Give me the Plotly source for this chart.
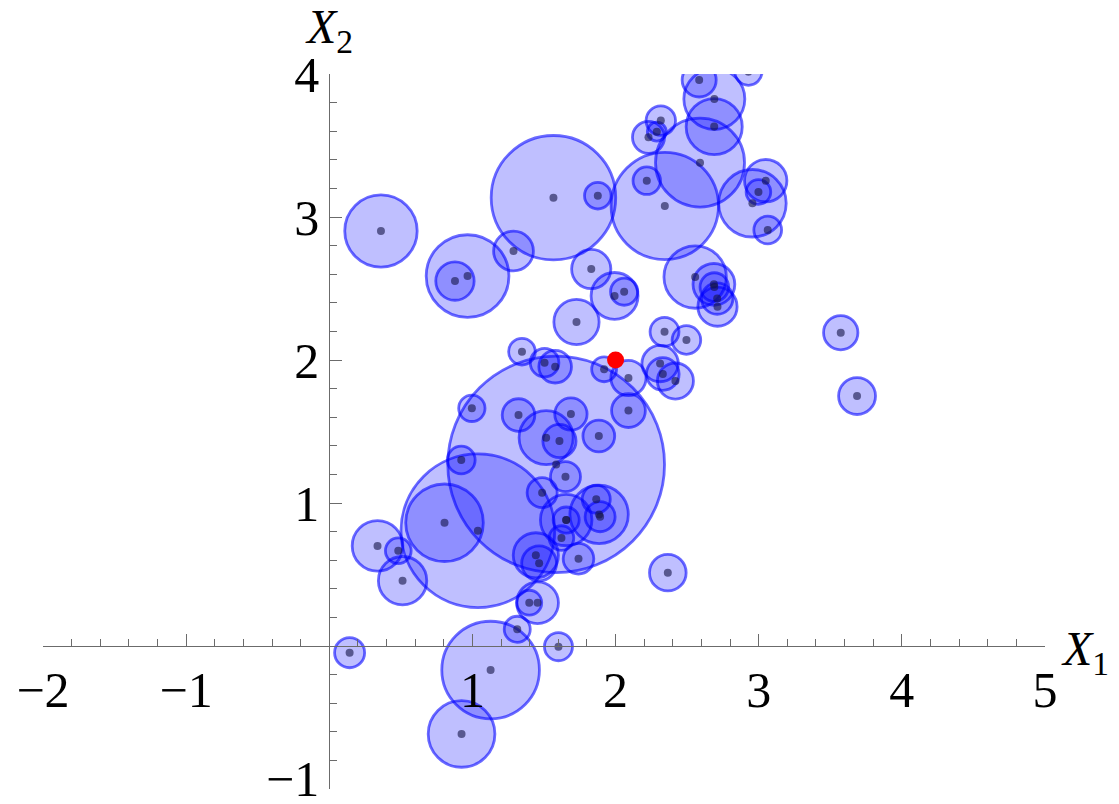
import plotly.graph_objects as go

# circle centres and radii (data units)
cx = [0.361, 1.566, 1.876, 1.287, 0.966, 0.878, 1.83, 2.06, 1.993, 1.727,
      2.584, 2.928, 2.69, 2.689, 2.316, 2.288, 2.23, 2.59, 2.344, 2.218,
      3.049, 2.998, 2.956, 3.063, 2.556, 2.687, 2.69, 2.712, 2.71, 1.346,
      1.504, 1.578, 1.92, 2.09, 2.09, 2.342, 2.495, 2.311, 2.33, 2.418,
      3.573, 3.687, 1.585, 1.038, 0.805, 0.996, 1.322, 1.688, 1.515, 1.608,
      1.883, 0.922, 1.65, 1.487, 1.865, 1.892, 1.885, 1.655, 1.655, 1.622,
      0.337, 0.482, 0.512, 1.741, 1.443, 1.466, 2.365, 1.397, 1.455, 1.313,
      1.601, 0.142, 1.127, 0.924]
cy = [2.902, 3.135, 3.149, 2.762, 2.587, 2.552, 2.636, 2.478, 2.448, 2.266,
      3.958, 4.016, 3.825, 3.632, 3.674, 3.597, 3.557, 3.38, 3.077, 3.254,
      3.254, 3.175, 3.096, 2.909, 2.58, 2.529, 2.51, 2.373, 2.43, 2.058,
      1.981, 1.953, 1.935, 1.874, 1.646, 2.197, 2.14, 1.975, 1.902, 1.853,
      2.191, 1.748, 1.27, 0.806, 0.862, 1.662, 1.615, 1.622, 1.457, 1.434,
      1.469, 1.301, 1.184, 1.072, 1.027, 0.904, 0.92, 0.881, 0.881, 0.755,
      0.70, 0.666, 0.457, 0.61, 0.634, 0.578, 0.513, 0.303, 0.303, 0.117,
      -0.005, -0.047, -0.168, -0.615]
rad = [0.253, 0.435, 0.093, 0.139, 0.289, 0.134, 0.137, 0.095, 0.164, 0.158,
       0.119, 0.095, 0.213, 0.196, 0.103, 0.066, 0.112, 0.311, 0.375, 0.096,
       0.148, 0.086, 0.236, 0.097, 0.218, 0.146, 0.10, 0.137, 0.11, 0.093,
       0.10, 0.114, 0.087, 0.123, 0.118, 0.101, 0.10, 0.127, 0.114, 0.126,
       0.12, 0.129, 0.757, 0.537, 0.271, 0.092, 0.114, 0.113, 0.189, 0.116,
       0.111, 0.097, 0.105, 0.105, 0.098, 0.105, 0.204, 0.18, 0.091, 0.086,
       0.177, 0.09, 0.169, 0.107, 0.158, 0.122, 0.128, 0.087, 0.146, 0.091,
       0.098, 0.105, 0.341, 0.233]

query_x = [2.0]
query_y = [2.0]

x_ticks = [-2, -1, 1, 2, 3, 4, 5]
y_ticks = [-1, 1, 2, 3, 4]
x_range = [-2, 5]
y_range = [-1, 4]

FONT = "Liberation Serif"
AXC = "#6b6b6b"

def lab(v):
    return "\u2212" + str(-v) if v < 0 else str(v)

fig = go.Figure()

shapes = []
for x, y, r in zip(cx, cy, rad):
    shapes.append(dict(type="circle", xref="x", yref="y",
                       x0=x - r, x1=x + r, y0=y - r, y1=y + r,
                       fillcolor="rgba(0,0,255,0.25)",
                       line=dict(color="rgba(0,0,255,0.58)", width=2.8),
                       layer="below"))

fig.add_trace(go.Scatter(x=cx, y=cy, mode="markers",
                         marker=dict(size=8, color="rgba(20,20,70,0.6)", line=dict(width=0)),
                         showlegend=False, hoverinfo="skip"))
fig.add_trace(go.Scatter(x=query_x, y=query_y, mode="markers",
                         marker=dict(size=17, color="#ff0000", line=dict(width=0)),
                         showlegend=False, hoverinfo="skip"))

x_pos = (0 - y_range[0]) / (y_range[1] - y_range[0])
y_pos = (0 - x_range[0]) / (x_range[1] - x_range[0])

axis_common = dict(showgrid=False, zeroline=False, showline=True, linecolor=AXC, linewidth=1.3,
                   tickmode="array", ticks="inside", ticklen=12, tickwidth=1.2, tickcolor=AXC,
                   tickfont=dict(family=FONT, size=50, color="black"),
                   minor=dict(tickmode="linear", tick0=0, dtick=0.2, ticks="inside", ticklen=7,
                              tickwidth=1, tickcolor=AXC, showgrid=False),
                   automargin=False, anchor="free")

# the lowest y label sits at the page edge, so it is drawn as an annotation
y_text = [lab(v) if v != y_range[0] else "" for v in y_ticks]

fig.update_layout(
    width=1119, height=804,
    margin=dict(l=43, r=74, t=74, b=15),
    paper_bgcolor="white", plot_bgcolor="white",
    shapes=shapes,
    xaxis=dict(range=x_range, position=x_pos, tickvals=x_ticks,
               ticktext=[lab(v) for v in x_ticks], **axis_common),
    yaxis=dict(range=y_range, position=y_pos, tickvals=y_ticks,
               ticktext=y_text, **axis_common),
    annotations=[
        dict(text=lab(y_range[0]), xref="x", yref="y", x=0, y=y_range[0], xanchor="right",
             yanchor="middle", xshift=-8, yshift=10, showarrow=False,
             font=dict(family=FONT, size=50, color="black")),
        dict(text="<i>X</i><sub>1</sub>", xref="paper", yref="y", x=1.0, y=0, xanchor="left",
             yanchor="middle", xshift=14, yshift=-6, showarrow=False,
             font=dict(family=FONT, size=48, color="black")),
        dict(text="<i>X</i><sub>2</sub>", xref="x", yref="paper", x=0, y=1.0, xanchor="center",
             yanchor="bottom", xshift=0, yshift=12, showarrow=False,
             font=dict(family=FONT, size=48, color="black")),
    ],
)

fig.write_html("out.html", config={"displayModeBar": False},
               post_script="document.body.style.margin='0';document.body.style.overflow='hidden';")
